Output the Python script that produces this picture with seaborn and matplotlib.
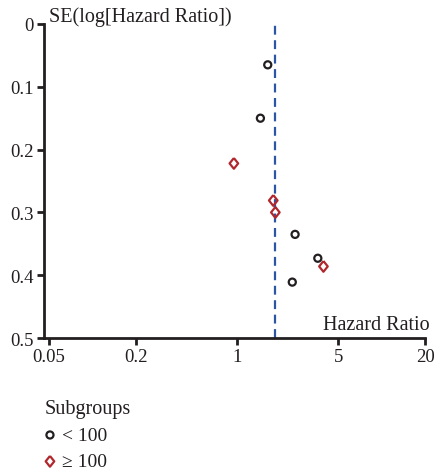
import matplotlib
matplotlib.use("Agg")
import matplotlib.pyplot as plt
import seaborn as sns
import pandas as pd

sns.set_theme(style="white")
plt.rcParams["font.family"] = ["Liberation Serif", "DejaVu Serif"]

INK = "#231f20"
RED = "#b0282e"
BLUE = "#2c55a3"

# small studies (< 100 patients)
small_hr = [1.63, 1.45, 2.52, 3.62, 2.41]
small_se = [0.065, 0.150, 0.335, 0.373, 0.411]
# large studies (>= 100 patients)
large_hr = [0.95, 1.78, 1.84, 3.96]
large_se = [0.222, 0.281, 0.300, 0.386]
pooled_hr = 1.84

x_ticks = [0.05, 0.2, 1, 5, 20]
x_tick_labels = ["0.05", "0.2", "1", "5", "20"]
y_ticks = [0, 0.1, 0.2, 0.3, 0.4, 0.5]
y_tick_labels = ["0", "0.1", "0.2", "0.3", "0.4", "0.5"]

df = pd.concat([
    pd.DataFrame({"hr": small_hr, "se": small_se, "group": "< 100"}),
    pd.DataFrame({"hr": large_hr, "se": large_se, "group": "\u2265 100"}),
])

fig = plt.figure(figsize=(4.37, 4.77), dpi=100)
ax = fig.add_axes([0.1007, 0.2893, 0.872, 0.6583])

diamond = [(0, 1), (0.8, 0), (0, -1), (-0.8, 0), (0, 1)]
styles = {"< 100": ("o", INK, 26), "\u2265 100": (diamond, RED, 60)}
for grp, (mk, col, size) in styles.items():
    sub = df[df["group"] == grp]
    sns.scatterplot(data=sub, x="hr", y="se", ax=ax, marker=mk, s=size,
                    facecolor="none", edgecolor=col, linewidth=1.6,
                    label=grp, zorder=3)

ax.axvline(pooled_hr, color=BLUE, lw=1.6, dashes=(4, 2.5), zorder=2)

ax.set_xscale("log")
ax.set_xlim(0.0461, 20)
ax.set_ylim(0.5, 0)
ax.set_xticks(x_ticks)
ax.set_xticklabels(x_tick_labels)
ax.set_yticks(y_ticks)
ax.set_yticklabels(y_tick_labels)
ax.minorticks_off()
ax.set_xlabel("")
ax.set_ylabel("")

for side in ["top", "right"]:
    ax.spines[side].set_visible(False)
for side in ["left", "bottom"]:
    ax.spines[side].set_color(INK)
    ax.spines[side].set_linewidth(2)
ax.tick_params(axis="both", which="major", length=5, width=2, color=INK,
               labelsize=13.5, labelcolor=INK, direction="out", pad=2.5)
ax.tick_params(axis="x", bottom=True)
ax.tick_params(axis="y", left=True)

ax.text(0.013, 1.025, "SE(log[Hazard Ratio])", transform=ax.transAxes,
        fontsize=14.5, color=INK, ha="left", va="center")
ax.text(1.013, 0.042, "Hazard Ratio", transform=ax.transAxes,
        fontsize=14.5, color=INK, ha="right", va="center")

leg = ax.legend(title="Subgroups", loc="upper left",
                bbox_to_anchor=(0.101, 0.162), bbox_transform=fig.transFigure,
                frameon=False, fontsize=14, title_fontsize=14.5,
                handlelength=0.6, handletextpad=0.3, labelspacing=0.45,
                borderpad=0, borderaxespad=0, alignment="left")
for t in leg.get_texts():
    t.set_color(INK)
leg.get_title().set_color(INK)

fig.savefig("out.png", dpi=100)
